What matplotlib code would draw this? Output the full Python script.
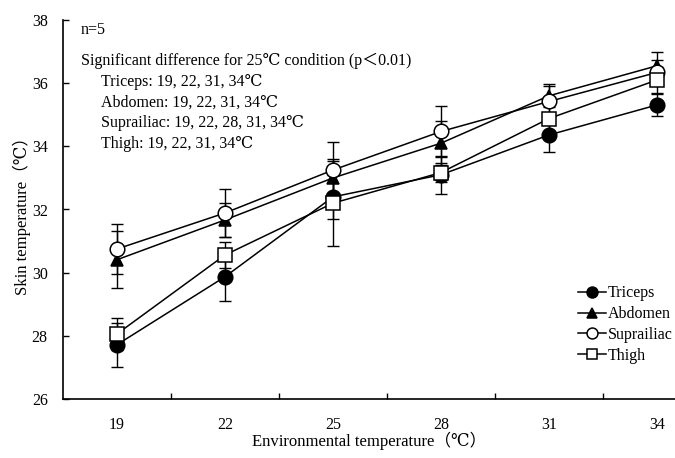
import numpy as np
import matplotlib
matplotlib.use("Agg")
import matplotlib.pyplot as plt

plt.rcParams['font.family'] = ['Liberation Serif', 'DejaVu Serif', 'Noto Sans CJK JP']
plt.rcParams['font.size'] = 11.5

# environmental temperature categories
env_temps = ['19', '22', '25', '28', '31', '34']

# skin temperature means and SD
triceps = [27.72, 29.87, 32.40, 33.10, 34.36, 35.31]
triceps_sd = [0.70, 0.78, 0.70, 0.60, 0.55, 0.35]
abdomen = [30.41, 31.67, 33.00, 34.10, 35.60, 36.55]
abdomen_sd = [0.90, 0.55, 0.60, 0.70, 0.37, 0.45]
suprailiac = [30.75, 31.89, 33.25, 34.47, 35.42, 36.34]
suprailiac_sd = [0.78, 0.75, 0.90, 0.80, 0.50, 0.40]
thigh = [28.06, 30.56, 32.20, 33.17, 34.88, 36.10]
thigh_sd = [0.50, 0.40, 1.35, 0.30, 0.50, 0.40]

notes = ['Triceps: 19, 22, 31, 34℃',
         'Abdomen: 19, 22, 31, 34℃',
         'Suprailiac: 19, 22, 28, 31, 34℃',
         'Thigh: 19, 22, 31, 34℃']

fig = plt.figure(figsize=(6.75, 4.58), dpi=100)
ax = fig.add_axes([63/675, 1 - 399/458, 612/675, 379/458])

x = np.arange(len(env_temps))
series = [
    ('Triceps', triceps, triceps_sd, 'o', 'black'),
    ('Abdomen', abdomen, abdomen_sd, '^', 'black'),
    ('Suprailiac', suprailiac, suprailiac_sd, 'o', 'white'),
    ('Thigh', thigh, thigh_sd, 's', 'white'),
]

# error bars go under every marker
for name, y, sd, m, fc in series:
    ax.errorbar(x, y, yerr=sd, fmt='none', ecolor='black', elinewidth=1.0,
                capsize=4, capthick=1.0, zorder=1)

for i, (name, y, sd, m, fc) in enumerate(series):
    ms = {'o': 10.5, '^': 9, 's': 10}[m]
    ax.plot(x, y, color='black', lw=1.1, marker=m, ms=ms, mfc=fc,
            mec='black', mew=1.1, label=name, zorder=3 + i)

ax.set_xlim(-0.5, 5.167)
ax.set_ylim(26, 38)
ax.set_yticks(np.arange(26, 39, 2))
ax.set_xticks(x)
ax.set_xticklabels(env_temps)
ax.set_xticks(x[:-1] + 0.5, minor=True)
ax.tick_params(axis='x', which='major', length=0, pad=13)
ax.tick_params(axis='x', which='minor', direction='in', length=4, width=1)
ax.tick_params(axis='y', direction='in', length=4, width=1, pad=11)
ax.spines['top'].set_visible(False)
ax.spines['right'].set_visible(False)
ax.spines['left'].set_linewidth(1.2)
ax.spines['bottom'].set_linewidth(1.2)

fig.text(22/675, 1 - 212/458, 'Skin temperature（℃）', rotation=90,
         ha='center', va='center', fontsize=12)
fig.text(369/675, 1 - 441/458, 'Environmental temperature（℃）',
         ha='center', va='center', fontsize=12)

fig.text(81/675, 1 - 30/458, 'n=5', ha='left', va='center')
fig.text(81/675, 1 - 61/458, 'Significant difference for 25℃ condition (p＜0.01)',
         ha='left', va='center')
for k, t in enumerate(notes):
    fig.text(101/675, 1 - (82 + 20.5*k)/458, t, ha='left', va='center')

ax.legend(loc='upper left', bbox_to_anchor=(572/675, 1 - 279/458),
          bbox_transform=fig.transFigure, frameon=False, fontsize=11.5,
          handlelength=1.7, handletextpad=0.15, markerscale=0.75,
          labelspacing=0.3, borderaxespad=0)

fig.savefig('out.png', dpi=100)
